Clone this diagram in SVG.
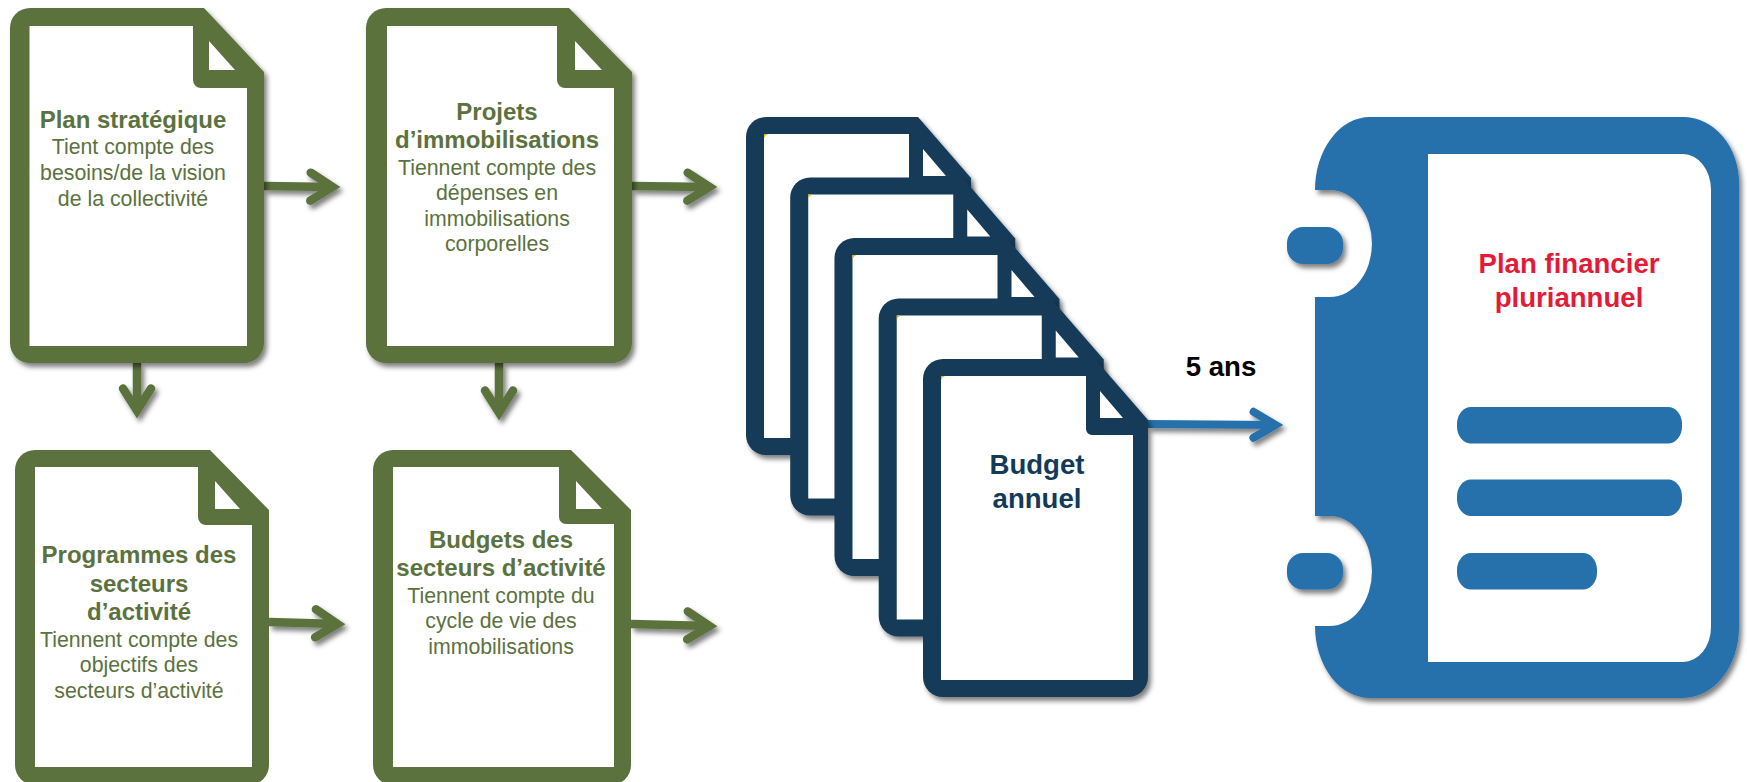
<svg xmlns="http://www.w3.org/2000/svg" width="1747" height="782" viewBox="0 0 1747 782">
<style>
text{font-family:"Liberation Sans",Arial,sans-serif;text-anchor:middle}
.g{fill:#5b723e}
.n{fill:#143a59}
.b{fill:#2671ab}
.w{fill:#fff}
.gt{fill:#5b723e;font-size:21.3px}
.gh{fill:#5b723e;font-size:24px;font-weight:700}
.big{font-size:27.6px;font-weight:700}
.cg{fill:none;stroke:#5b723e;stroke-width:8.5}
.cb{fill:none;stroke:#2671ab;stroke-width:8}
.sh{filter:url(#shadow)}
</style>
<defs>
<filter id="shadow" filterUnits="userSpaceOnUse" x="0" y="0" width="1747" height="782">
<feDropShadow dx="3" dy="4" stdDeviation="2.6" flood-color="#000" flood-opacity="0.5"/>
</filter>
<marker id="headG" markerUnits="userSpaceOnUse" markerWidth="60" markerHeight="60" refX="32.5" refY="25" orient="auto" overflow="visible">
<path d="M10 11L32 25L10 39" fill="none" stroke="#5b723e" stroke-width="8.5" stroke-linecap="round" stroke-miterlimit="4"/>
</marker>
<marker id="headB" markerUnits="userSpaceOnUse" markerWidth="60" markerHeight="60" refX="32.5" refY="25" orient="auto" overflow="visible">
<path d="M10 12L32 25L10 38" fill="none" stroke="#2671ab" stroke-width="8" stroke-linecap="round" stroke-miterlimit="4"/>
</marker>
<g id="navyDoc">
<path class="n" d="M20 0H172L225 61V318A20 20 0 0 1 205 338H20A20 20 0 0 1 0 318V20A20 20 0 0 1 20 0Z"/>
<path class="w" d="M18 17H163V70A6 6 0 0 0 169 76H210V321H18Z"/>
<path class="w" d="M177 32L200 59H177Z"/>
<path fill="#f2b705" d="M18 17H22Q19 18 18 21Z"/>
</g>
</defs>

<g id="connectors">
<path class="cg sh" d="M264 186L333 187" marker-end="url(#headG)"/>
<path class="cg sh" d="M632 186L710 187" marker-end="url(#headG)"/>
<path class="cg sh" d="M137 363V411" marker-end="url(#headG)"/>
<path class="cg sh" d="M499 363V413" marker-end="url(#headG)"/>
<path class="cg sh" d="M269 622L338 624" marker-end="url(#headG)"/>
<path class="cg sh" d="M631 624L710 626" marker-end="url(#headG)"/>
<path class="cb sh" d="M1148 424L1276 425" marker-end="url(#headB)"/>
</g>

<g id="plan-strategique">
<path class="g sh" d="M30 8H204L264 72V343A20 20 0 0 1 244 363H30A20 20 0 0 1 10 343V28A20 20 0 0 1 30 8Z"/>
<path class="w" d="M29.500 26H193V80A8 8 0 0 0 201 88H247V346H29.500Z"/>
<path class="w" d="M209 41L235 70H209Z"/>
<text class="gh" x="133" y="128">Plan stratégique</text>
<text class="gt" x="133" y="154">Tient compte des</text>
<text class="gt" x="133" y="180">besoins/de la vision</text>
<text class="gt" x="133" y="205.500">de la collectivité</text>
</g>

<g id="projets-immobilisations">
<path class="g sh" d="M386 8H569L632 72V343A20 20 0 0 1 612 363H386A20 20 0 0 1 366 343V28A20 20 0 0 1 386 8Z"/>
<path class="w" d="M387 26H557V80A8 8 0 0 0 565 88H614V346H387Z"/>
<path class="w" d="M575 41L602 70H575Z"/>
<text class="gh" x="497" y="120">Projets</text>
<text class="gh" x="497" y="148">d’immobilisations</text>
<text class="gt" x="497" y="175">Tiennent compte des</text>
<text class="gt" x="497" y="200">dépenses en</text>
<text class="gt" x="497" y="226">immobilisations</text>
<text class="gt" x="497" y="251">corporelles</text>
</g>

<g id="programmes-secteurs">
<path class="g" d="M35 450H210L269 510V765A20 20 0 0 1 249 785H35A20 20 0 0 1 15 765V470A20 20 0 0 1 35 450Z"/>
<path class="w" d="M35 467H198V517A8 8 0 0 0 206 525H252V767H35Z"/>
<path class="w" d="M215 481L240 509H215Z"/>
<text class="gh" x="139" y="563">Programmes des</text>
<text class="gh" x="139" y="592">secteurs</text>
<text class="gh" x="139" y="620">d’activité</text>
<text class="gt" x="139" y="647">Tiennent compte des</text>
<text class="gt" x="139" y="672">objectifs des</text>
<text class="gt" x="139" y="698">secteurs d’activité</text>
</g>

<g id="budgets-secteurs">
<path class="g" d="M393 450H571L631 510V765A20 20 0 0 1 611 785H393A20 20 0 0 1 373 765V470A20 20 0 0 1 393 450Z"/>
<path class="w" d="M393 467H559V517A7 7 0 0 0 566 524H614V767H393Z"/>
<path class="w" d="M576 481L602 509H576Z"/>
<text class="gh" x="501" y="548">Budgets des</text>
<text class="gh" x="501" y="576">secteurs d’activité</text>
<text class="gt" x="501" y="603">Tiennent compte du</text>
<text class="gt" x="501" y="628">cycle de vie des</text>
<text class="gt" x="501" y="654">immobilisations</text>
</g>

<g id="budget-stack-1"><use class="sh" href="#navyDoc" x="746" y="117"/></g>
<g id="budget-stack-2"><use class="sh" href="#navyDoc" x="790.250" y="177.500"/></g>
<g id="budget-stack-3"><use class="sh" href="#navyDoc" x="834.500" y="238"/></g>
<g id="budget-stack-4"><use class="sh" href="#navyDoc" x="878.750" y="298.500"/></g>
<g id="budget-annuel">
<use class="sh" href="#navyDoc" x="923" y="359"/>
<text class="n big" x="1037" y="474">Budget</text>
<text class="n big" x="1037" y="508">annuel</text>
</g>

<text id="label-5-ans" class="big" x="1221" y="376" fill="#000">5 ans</text>

<g id="plan-financier">
<g class="sh">
<path class="b" d="M1370 117H1683A56 66 0 0 1 1739 183V627A56 71 0 0 1 1683 698H1370A55 72 0 0 1 1315 626H1330A42 55 0 0 0 1330 516H1315V297H1330A42 53.500 0 0 0 1330 190H1315A55 73 0 0 1 1370 117Z"/>
<rect class="b" x="1287" y="227" width="56" height="37" rx="16" ry="16"/>
<rect class="b" x="1287" y="553" width="56" height="36.500" rx="16" ry="16"/>
</g>
<path class="w" d="M1428 154H1683A28 36 0 0 1 1711 190V627A28 35 0 0 1 1683 662H1428Z"/>
<rect class="b" x="1457" y="407" width="225" height="36.500" rx="14" ry="17"/>
<rect class="b" x="1457" y="479.500" width="225" height="36.500" rx="14" ry="17"/>
<rect class="b" x="1457" y="553" width="140" height="36.500" rx="14" ry="17"/>
<text class="big" fill="#e31b37" x="1569" y="273">Plan financier</text>
<text class="big" fill="#e31b37" x="1569" y="307">pluriannuel</text>
</g>
</svg>
